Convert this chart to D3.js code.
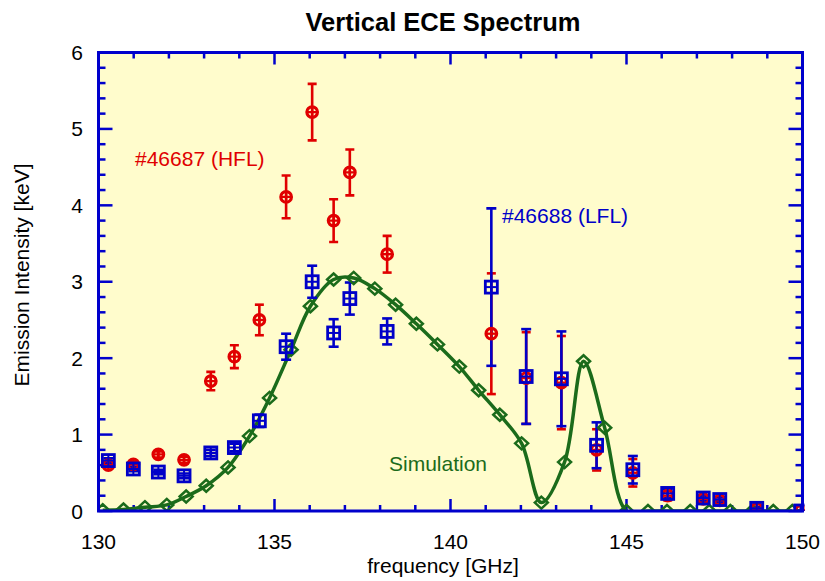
<!DOCTYPE html>
<html>
<head>
<meta charset="utf-8">
<script src="https://cdn.jsdelivr.net/npm/d3@7"></script>
<style>
  html, body { margin: 0; padding: 0; background: #ffffff; }
  svg { display: block; font-family: "Liberation Sans", Arial, sans-serif; }
</style>
</head>
<body>
<svg id="chart" width="825" height="581"></svg>
<script>
// ---- data ----
const freqs   = [130.28, 130.99, 131.70, 132.43, 133.19, 133.86, 134.57, 135.33, 136.07, 136.68, 137.14, 138.20, 141.16, 142.15, 143.15, 144.15, 145.18, 146.17, 147.18, 147.65, 148.70, 149.95];
const hfl     = [0.60, 0.61, 0.74, 0.67, 1.70, 2.02, 2.50, 4.11, 5.22, 3.80, 4.43, 3.36, 2.32, 1.74, 1.68, 0.80, 0.50, 0.20, 0.16, 0.14, 0.03, 0.00];
const hflErr  = [0.03, 0.03, 0.04, 0.04, 0.12, 0.15, 0.20, 0.28, 0.37, 0.28, 0.30, 0.24, 0.79, 0.60, 0.61, 0.27, 0.18, 0.06, 0.04, 0.04, 0.02, 0.01];
const lfl     = [0.66, 0.55, 0.51, 0.46, 0.76, 0.83, 1.18, 2.15, 3.00, 2.33, 2.78, 2.35, 2.93, 1.76, 1.73, 0.86, 0.54, 0.23, 0.17, 0.15, 0.035, 0.00];
const lflErr  = [0.03, 0.03, 0.03, 0.03, 0.04, 0.05, 0.08, 0.17, 0.21, 0.18, 0.21, 0.17, 1.03, 0.62, 0.62, 0.30, 0.18, 0.06, 0.03, 0.03, 0.02, 0.01];
const simFreq = [130.12, 130.71, 131.32, 131.94, 132.49, 133.06, 133.68, 134.29, 134.86, 135.47, 136.02, 136.68, 137.25, 137.85, 138.44, 139.03, 139.63, 140.25, 140.80, 141.40, 142.02, 142.58, 143.24, 143.78, 144.38, 145.00, 145.61, 146.15, 146.81, 147.35, 147.95, 148.57, 149.17, 149.71];
const simVal  = [0.01, 0.02, 0.05, 0.08, 0.19, 0.33, 0.57, 0.98, 1.48, 2.11, 2.68, 3.03, 3.05, 2.91, 2.70, 2.45, 2.18, 1.89, 1.58, 1.26, 0.885, 0.11, 0.64, 1.96, 1.09, 0.00, 0, 0, 0, 0, 0, 0, 0, 0];
const xTicks  = [130, 135, 140, 145, 150];
const yTicks  = [0, 1, 2, 3, 4, 5, 6];

const title = "Vertical ECE Spectrum";
const xLabel = "frequency [GHz]";
const yLabel = "Emission Intensity [keV]";
const hflLabel = "#46687 (HFL)";
const lflLabel = "#46688 (LFL)";
const simLabel = "Simulation";

// ---- styles ----
const AXIS = "#0000cc", RED = "#e00000", BLUE = "#0000c8", GREEN = "#1b6b1b", BG = "#fffccc";

const svg = d3.select("#chart");
const L = 98.5, T = 52.5, R = 802.5, B = 511;

const x = d3.scaleLinear().domain([130, 150]).range([L, R]);
const y = d3.scaleLinear().domain([0, 6]).range([B, T]);

// background
svg.append("rect").attr("x", L).attr("y", T).attr("width", R - L).attr("height", B - T).attr("fill", BG);

svg.append("defs").append("clipPath").attr("id", "clip")
  .append("rect").attr("x", L).attr("y", T - 10).attr("width", R - L + 2).attr("height", B - T + 10);

// ticks
const g = svg.append("g");
const xMinor = d3.range(131, 150, 1).filter(v => v % 5 !== 0);
const yMinor = d3.range(0.2, 6, 0.2).filter(v => Math.abs(v - Math.round(v)) > 0.01);

function xt(vals, len) {
  vals.forEach(v => {
    g.append("line").attr("x1", x(v)).attr("x2", x(v)).attr("y1", B).attr("y2", B - len)
      .attr("stroke", AXIS).attr("stroke-width", 2.5);
    g.append("line").attr("x1", x(v)).attr("x2", x(v)).attr("y1", T).attr("y2", T + len)
      .attr("stroke", AXIS).attr("stroke-width", 2.5);
  });
}
function yt(vals, len) {
  vals.forEach(v => {
    g.append("line").attr("y1", y(v)).attr("y2", y(v)).attr("x1", L).attr("x2", L + len)
      .attr("stroke", AXIS).attr("stroke-width", 2.5);
    g.append("line").attr("y1", y(v)).attr("y2", y(v)).attr("x1", R).attr("x2", R - len)
      .attr("stroke", AXIS).attr("stroke-width", 2.5);
  });
}
xt(xMinor, 6);
xt(xTicks, 12);
yt(yMinor, 7);
yt(yTicks, 14);

// tick labels
svg.append("g").selectAll("text").data(xTicks).join("text")
  .attr("x", d => x(d)).attr("y", 548.5).attr("text-anchor", "middle")
  .attr("font-size", 21).attr("fill", "#000").text(d => d);
svg.append("g").selectAll("text").data(yTicks).join("text")
  .attr("x", 83).attr("y", d => y(d)).attr("dy", "0.36em").attr("text-anchor", "end")
  .attr("font-size", 21).attr("fill", "#000").text(d => d);

// axis titles
svg.append("text").attr("x", 443).attr("y", 573).attr("text-anchor", "middle")
  .attr("font-size", 21).attr("fill", "#000").text(xLabel);
svg.append("text").attr("transform", "translate(29,275) rotate(-90)").attr("text-anchor", "middle")
  .attr("font-size", 21).attr("fill", "#000").text(yLabel);
svg.append("text").attr("x", 443).attr("y", 31).attr("text-anchor", "middle")
  .attr("font-size", 25.5).attr("font-weight", "bold").attr("fill", "#000").text(title);

// plot content
const pg = svg.append("g").attr("clip-path", "url(#clip)");

// simulation line
const simData = simFreq.map((f, i) => [f, simVal[i]]);
pg.append("path").datum(simData)
  .attr("d", d3.line().x(d => x(d[0])).y(d => y(d[1])).curve(d3.curveCatmullRom.alpha(0.5)))
  .attr("fill", "none").attr("stroke", GREEN).attr("stroke-width", 3.5);

const hflData = freqs.map((f, i) => ({ f, v: hfl[i], e: hflErr[i] }));
const lflData = freqs.map((f, i) => ({ f, v: lfl[i], e: lflErr[i] }));

function errBars(data, color, cap) {
  const eg = pg.append("g").attr("stroke", color).attr("stroke-width", 2.6);
  data.forEach(d => {
    const y0 = y(d.v - d.e), y1 = y(d.v + d.e), cx = x(d.f);
    eg.append("line").attr("x1", cx).attr("x2", cx).attr("y1", y0).attr("y2", y1);
    eg.append("line").attr("x1", cx - cap).attr("x2", cx + cap).attr("y1", y0).attr("y2", y0);
    eg.append("line").attr("x1", cx - cap).attr("x2", cx + cap).attr("y1", y1).attr("y2", y1);
  });
}
errBars(hflData, RED, 4.5);
errBars(lflData, BLUE, 5);

// diamonds
const dg = pg.append("g");
simData.forEach(d => {
  const cx = x(d[0]), cy = y(d[1]);
  dg.append("path")
    .attr("d", `M${cx - 6.5},${cy} L${cx},${cy - 6} L${cx + 6.5},${cy} L${cx},${cy + 6} Z`)
    .attr("fill", "none").attr("stroke", GREEN).attr("stroke-width", 2.5);
});

// red markers (circle with cross)
const rg = pg.append("g").attr("stroke", RED);
hflData.forEach(d => {
  const cx = x(d.f), cy = y(d.v);
  rg.append("circle").attr("cx", cx).attr("cy", cy).attr("r", 5.3).attr("fill", "none").attr("stroke-width", 3.2);
  rg.append("line").attr("x1", cx - 5).attr("x2", cx + 5).attr("y1", cy).attr("y2", cy).attr("stroke-width", 2.3);
  rg.append("line").attr("x1", cx).attr("x2", cx).attr("y1", cy - 5).attr("y2", cy + 5).attr("stroke-width", 2.3);
});

// blue markers (square with cross)
const bg = pg.append("g").attr("stroke", BLUE);
lflData.forEach(d => {
  const cx = x(d.f), cy = y(d.v);
  bg.append("rect").attr("x", cx - 6).attr("y", cy - 6).attr("width", 12).attr("height", 12)
    .attr("fill", "none").attr("stroke-width", 2.8);
  bg.append("line").attr("x1", cx - 6).attr("x2", cx + 6).attr("y1", cy).attr("y2", cy).attr("stroke-width", 2);
  bg.append("line").attr("x1", cx).attr("x2", cx).attr("y1", cy - 6).attr("y2", cy + 6).attr("stroke-width", 2);
});

// frame
svg.append("rect").attr("x", L).attr("y", T).attr("width", R - L).attr("height", B - T)
  .attr("fill", "none").attr("stroke", AXIS).attr("stroke-width", 3);

// annotations
svg.append("text").attr("x", 135).attr("y", 166).attr("font-size", 21).attr("fill", RED).text(hflLabel);
svg.append("text").attr("x", 502).attr("y", 223).attr("font-size", 21).attr("fill", BLUE).text(lflLabel);
svg.append("text").attr("x", 389).attr("y", 471).attr("font-size", 21).attr("fill", GREEN).text(simLabel);
</script>
</body>
</html>
